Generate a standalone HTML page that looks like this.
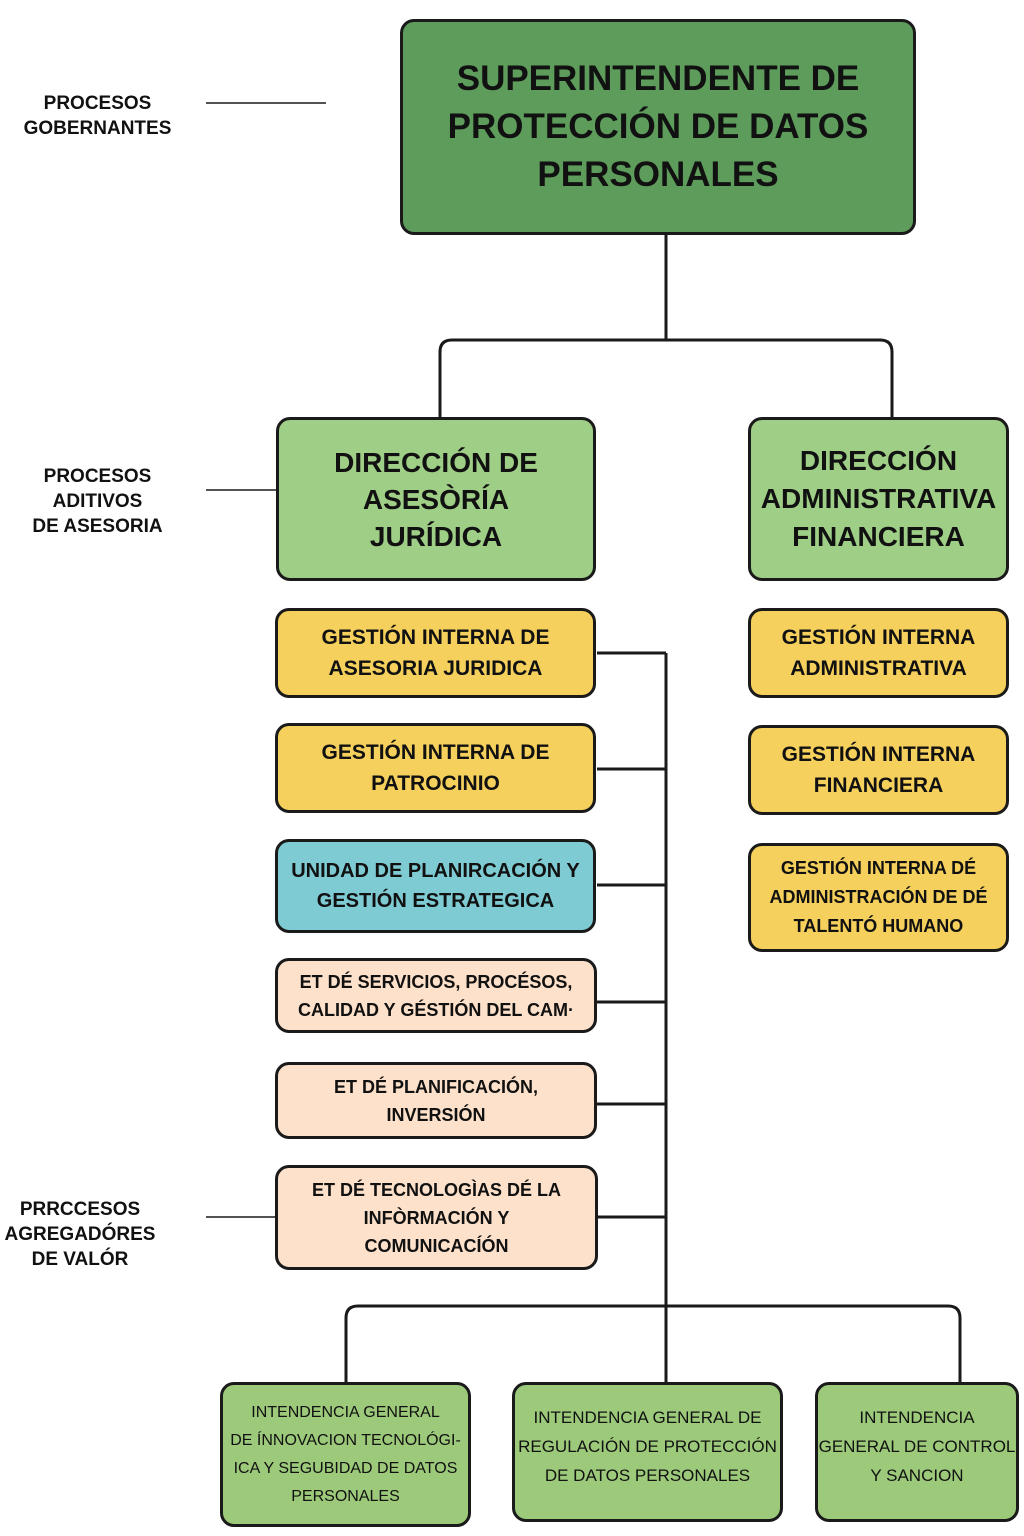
<!DOCTYPE html>
<html><head><meta charset="utf-8"><style>
body{margin:0;width:1024px;height:1536px;background:#fff;position:relative;overflow:hidden;font-family:"Liberation Sans","DejaVu Sans",sans-serif;color:#111}
.b{position:absolute;box-sizing:border-box;border:3px solid #1a1a1a;border-radius:14px;display:flex;align-items:center;justify-content:center;text-align:center;font-weight:bold}
.l{position:absolute;text-align:center;font-weight:bold;font-size:19px;line-height:25px}
svg{position:absolute;left:0;top:0}
</style></head><body>
<svg width="1024" height="1536" fill="none" stroke="#1a1a1a" stroke-width="3">
<path d="M666 235V340M440 417V352Q440 340 452 340H880Q892 340 892 352V417"/>
<path d="M666 653V1382M597 653H666M597 769H666M597 885H666M597 1002H666M597 1104H666M598 1217H666"/>
<path d="M346 1382V1318Q346 1306 358 1306H948Q960 1306 960 1318V1382"/>
<path stroke-width="1.5" d="M206 103H326M206 490H276M206 1217H276"/>
</svg>
<div class="l" style="left:10px;top:91px;width:175px">PROCESOS<br>GOBERNANTES</div>
<div class="l" style="left:10px;top:464px;width:175px">PROCESOS<br>ADITIVOS<br>DE ASESORIA</div>
<div class="l" style="left:0;top:1197px;width:160px">PRRCCESOS<br>AGREGADÓRES<br>DE VALÓR</div>
<div class="b" style="left:400px;top:19px;width:516px;height:216px;background:#5d9c5b;font-size:35px;line-height:48px">SUPERINTENDENTE DE<br>PROTECCIÓN DE DATOS<br>PERSONALES</div>
<div class="b" style="left:276px;top:417px;width:320px;height:164px;background:#9fcf86;font-size:28px;line-height:37px">DIRECCIÓN DE<br>ASESÒRÍA<br>JURÍDICA</div>
<div class="b" style="left:748px;top:417px;width:261px;height:164px;background:#9fcf86;font-size:28px;line-height:38px">DIRECCIÓN<br>ADMINISTRATIVA<br>FINANCIERA</div>
<div class="b" style="left:275px;top:608px;width:321px;height:90px;background:#f5d05c;font-size:21px;line-height:31px">GESTIÓN INTERNA DE<br>ASESORIA JURIDICA</div>
<div class="b" style="left:275px;top:723px;width:321px;height:90px;background:#f5d05c;font-size:21px;line-height:31px">GESTIÓN INTERNA DE<br>PATROCINIO</div>
<div class="b" style="left:275px;top:839px;width:321px;height:94px;background:#7fcbd3;font-size:20px;line-height:30px">UNIDAD DE PLANIRCACIÓN Y<br>GESTIÓN ESTRATEGICA</div>
<div class="b" style="left:275px;top:958px;width:322px;height:75px;background:#fde1ca;font-size:18px;line-height:28px">ET DÉ SERVICIOS, PROCÉSOS,<br>CALIDAD Y GÉSTIÓN DEL CAM·</div>
<div class="b" style="left:275px;top:1062px;width:322px;height:77px;background:#fde1ca;font-size:18px;line-height:28px">ET DÉ PLANIFICACIÓN,<br>INVERSIÓN</div>
<div class="b" style="left:275px;top:1165px;width:323px;height:105px;background:#fde1ca;font-size:18px;line-height:28px">ET DÉ TECNOLOGÌAS DÉ LA<br>INFÒRMACIÓN Y<br>COMUNICACÍÓN</div>
<div class="b" style="left:748px;top:608px;width:261px;height:90px;background:#f5d05c;font-size:21px;line-height:31px">GESTIÓN INTERNA<br>ADMINISTRATIVA</div>
<div class="b" style="left:748px;top:725px;width:261px;height:90px;background:#f5d05c;font-size:21px;line-height:31px">GESTIÓN INTERNA<br>FINANCIERA</div>
<div class="b" style="left:748px;top:843px;width:261px;height:109px;background:#f5d05c;font-size:18px;line-height:29px">GESTIÓN INTERNA DÉ<br>ADMINISTRACIÓN DE DÉ<br>TALENTÓ HUMANO</div>
<div class="b" style="left:220px;top:1382px;width:251px;height:145px;background:#9cc97a;font-weight:normal;font-size:16px;line-height:28px">INTENDENCIA GENERAL<br>DE ÍNNOVACION TECNOLÓGI-<br>ICA Y SEGUBIDAD DE DATOS<br>PERSONALES</div>
<div class="b" style="left:512px;top:1382px;width:271px;height:140px;background:#9cc97a;font-weight:normal;font-size:17px;line-height:29px;align-items:flex-start;padding-top:18px">INTENDENCIA GENERAL DE<br>REGULACIÓN DE PROTECCIÓN<br>DE DATOS PERSONALES</div>
<div class="b" style="left:815px;top:1382px;width:204px;height:140px;background:#9cc97a;font-weight:normal;font-size:17px;line-height:29px;align-items:flex-start;padding-top:18px">INTENDENCIA<br>GENERAL DE CONTROL<br>Y SANCION</div>
</body></html>
